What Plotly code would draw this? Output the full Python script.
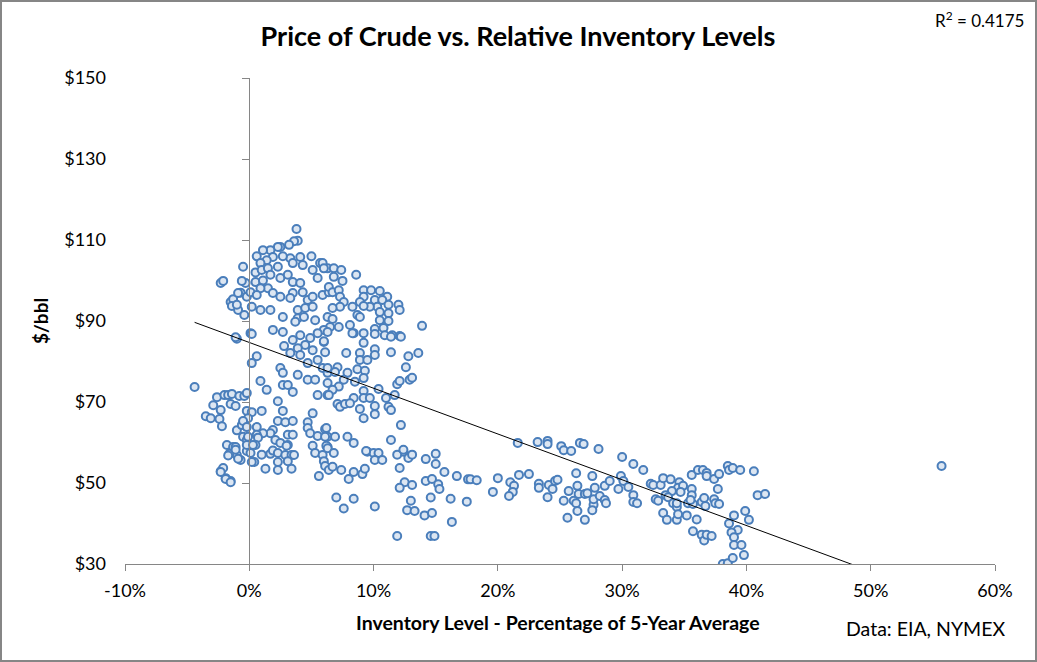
import numpy as np
import plotly.graph_objects as go

# Inventory level (% of 5-year average) and crude price ($/bbl)
inventory_pct = [
    -4.4,-3.5,-3.1,-2.9,-2.6,-2.3,-2.0,-2.4,-2.2,-1.5,-1.1,-1.7,-1.4,-2.3,-2.1,-1.9,-1.5,-1.8,-1.3,-1.0,-1.6,-0.7,-1.0,-0.6,-0.8,-0.4,-0.5,-0.2,-0.2,0.2,-0.2,0.1,0.4,
    -2.3,-2.1,-1.5,-1.3,-1.0,-1.4,-0.7,-0.5,-0.9,-0.4,-0.2,-0.3,-1.0,
    3.8,3.9,3.6,3.2,2.5,2.3,1.7,1.1,0.6,-0.6,5.0,4.1,3.3,2.7,1.9,3.5,4.3,1.4,0.9,0.5,1.0,1.5,2.3,1.7,2.5,3.1,3.5,4.1,5.1,5.7,5.5,6.3,0.5,1.1,1.5,0.9,0.1,-0.9,0.6,1.9,2.5,3.5,4.3,4.7,5.1,5.9,6.4,3.3,0.2,0.9,1.7,3.9,4.5,5.1,2.7,3.9,4.4,5.3,6.3,3.7,1.9,2.7,0.1,-1.1,
    5.9,6.0,6.8,7.4,6.8,7.5,8.6,6.4,6.7,7.2,7.3,7.6,9.2,9.8,10.5,11.1,9.2,10.1,10.7,8.9,12.0,12.1,11.2,10.3,9.7,9.2,8.3,7.3,6.7,11.2,10.5,8.7,8.9,6.7,13.9,10.5,11.2,6.5,7.2,8.1,10.8,10.1,9.2,12.1,8.4,11.5,6.0,
    0.2,0.6,0.2,2.8,3.5,4.1,4.9,5.5,6.0,4.5,3.9,5.1,6.1,3.3,4.1,5.5,4.7,5.9,6.3,2.5,2.7,3.9,4.7,5.3,2.7,3.1,3.5,5.5,6.3,0.9,1.4,2.3,-0.2,
    -0.1,-0.5,1.0,0.6,-0.2,2.7,2.3,2.9,3.5,1.9,1.7,1.1,0.6,-0.1,0.7,2.1,3.1,3.5,4.7,5.1,4.7,4.9,5.5,6.1,6.3,-1.1,-0.2,0.5,2.5,3.1,6.3,
    6.0,6.3,8.3,10.1,10.9,11.4,12.2,9.2,7.8,8.9,10.1,10.1,11.4,12.8,13.6,8.9,9.5,6.3,7.1,6.9,7.9,8.7,9.3,7.6,8.5,9.2,6.3,7.2,6.7,6.4,12.6,11.9,12.1,12.9,13.1,10.4,11.0,11.7,9.2,8.4,9.2,9.7,7.1,7.3,7.7,8.1,8.9,10.1,10.1,11.2,11.4,9.2,12.2,6.2,6.1,6.9,7.9,8.4,6.2,11.4,9.5,10.0,12.4,
    -1.1,-1.7,-0.9,0.3,0.2,-2.3,-1.9,-1.5,1.0,1.3,1.7,1.9,2.3,2.3,2.3,2.9,3.0,3.4,3.6,3.4,3.1,5.1,5.3,5.9,6.3,6.0,6.1,6.4,5.6,
    6.7,7.4,6.8,9.4,8.4,8.0,9.1,9.3,10.4,10.1,10.7,7.0,7.6,8.4,10.1,12.1,11.9,12.4,12.8,13.1,12.5,12.1,13.1,13.0,12.7,13.3,11.9,14.2,15.0,15.0,15.7,16.7,17.6,14.2,14.7,15.2,15.3,14.6,16.2,17.5,14.1,14.7,16.3,14.6,14.9,
    17.8,18.3,20.0,19.6,21.6,23.2,24.0,24.0,25.1,25.3,25.9,26.6,26.9,28.1,30.0,30.9,31.7,21.7,22.5,21.0,21.3,21.2,20.9,23.3,23.3,24.0,24.1,24.4,24.6,24.8,26.3,27.6,25.7,25.3,26.1,26.4,26.3,26.5,27.0,27.2,26.4,25.6,27.0,27.7,27.6,27.7,28.2,28.6,28.7,27.8,28.6,29.0,29.7,29.9,30.1,30.5,30.9,30.9,31.2,32.3,
    32.5,33.1,33.3,33.9,34.6,34.5,34.9,35.6,35.6,34.7,34.0,32.7,32.9,33.5,33.7,34.1,34.4,34.4,33.3,33.6,34.4,34.5,35.2,36.0,35.3,35.7,35.5,36.4,36.6,36.7,37.4,37.5,37.8,35.6,36.1,36.5,36.8,36.8,37.4,37.8,37.7,38.5,38.6,38.9,39.5,40.6,40.9,41.5,35.7,36.4,36.6,36.8,37.2,39.0,38.6,39.3,38.8,39.0,39.0,39.6,39.9,40.2,39.8,38.1,38.5,38.9,55.7,
]
price_usd = [
    73.7,66.5,66.0,69.2,71.2,68.0,71.7,65.8,64.0,69.5,69.0,71.7,72.0,52.9,53.7,51.2,50.5,59.4,58.9,56.9,57.2,55.7,63.0,64.3,71.5,71.5,61.4,60.6,67.8,67.5,57.9,57.4,55.2,
    99.4,99.9,94.7,95.4,85.6,93.7,97.0,103.4,92.7,91.5,96.0,99.4,94.0,
    112.7,109.8,109.7,108.8,108.3,108.3,107.5,107.5,106.0,99.9,106.0,105.8,105.5,106.0,105.8,104.3,103.8,105.0,104.3,102.0,102.6,103.0,103.4,101.4,100.6,101.4,99.6,99.4,102.6,104.3,100.6,103.0,99.6,100.0,98.1,98.1,97.1,96.9,96.4,96.9,96.0,96.9,97.1,95.2,96.0,96.4,97.1,95.7,93.5,92.7,92.7,92.7,93.2,93.5,91.0,90.7,91.0,90.2,91.0,89.8,87.8,87.3,87.0,86.0,
    104.3,103.0,103.0,102.6,100.9,99.9,101.4,98.4,97.1,97.6,96.0,94.7,97.6,97.6,97.4,96.0,96.0,95.2,95.2,94.7,94.0,92.7,94.0,93.5,93.5,93.7,93.5,93.5,93.2,91.9,92.2,91.5,91.0,90.5,88.8,90.2,90.0,88.5,88.5,89.0,88.3,88.0,87.0,86.3,87.0,86.5,87.8,
    86.8,81.3,79.6,83.8,85.3,86.5,85.8,87.0,84.8,84.1,83.3,82.8,82.3,82.1,81.6,80.4,79.6,78.4,77.2,78.4,77.2,76.7,75.5,75.5,74.2,74.2,72.5,71.7,71.7,75.2,73.0,70.2,72.2,
    66.0,65.3,67.8,63.8,63.8,67.8,65.3,65.0,65.3,63.1,62.3,62.3,61.9,61.4,61.2,60.6,61.9,61.9,65.0,67.2,63.6,62.3,61.6,63.3,61.4,58.9,59.4,59.4,59.9,59.4,58.9,
    85.0,87.3,87.0,86.8,86.5,86.1,86.1,84.6,82.1,82.1,83.0,81.6,82.3,81.3,82.1,80.4,80.4,78.4,78.6,77.4,77.2,78.1,77.7,75.5,75.0,75.9,74.7,73.8,73.0,71.7,78.6,74.4,75.2,75.5,76.0,73.2,71.0,71.7,72.7,71.0,71.0,71.0,69.5,68.8,69.5,69.7,68.3,69.0,67.0,68.8,68.0,66.0,64.3,63.6,61.4,61.4,61.4,59.9,59.2,60.6,57.7,57.4,57.7,
    58.2,56.8,56.0,59.4,55.2,52.7,51.0,50.2,57.0,53.5,57.2,58.0,57.4,55.2,53.2,56.9,59.2,56.9,56.9,53.5,55.4,59.2,57.4,56.9,58.6,55.4,54.2,53.2,51.7,
    54.0,53.2,57.4,57.9,52.7,51.0,52.2,53.5,57.4,55.7,55.7,46.4,43.7,46.1,44.2,53.7,57.0,58.2,56.2,57.0,50.2,48.8,49.5,45.6,43.3,43.1,36.9,55.9,57.2,54.7,52.7,51.7,50.9,50.5,51.0,49.7,48.5,46.4,46.1,45.4,42.0,42.6,40.4,36.9,36.9,
    50.9,50.7,51.2,47.8,59.9,60.1,60.4,59.6,59.1,58.1,57.9,59.9,59.6,58.4,56.4,54.7,53.2,52.0,52.2,50.2,49.3,47.8,46.8,49.8,48.8,46.5,49.5,48.5,50.5,50.8,52.4,51.7,48.0,45.6,45.6,49.3,45.0,47.3,47.3,47.5,43.1,41.4,40.9,44.6,43.3,46.0,46.8,45.8,45.0,48.8,49.3,50.5,48.5,51.7,50.5,49.0,47.0,45.3,45.0,49.8,
    49.5,49.5,51.2,50.9,50.2,48.8,49.3,48.5,47.0,47.8,48.0,46.0,45.6,47.0,46.5,45.0,44.1,45.0,42.6,40.9,40.9,42.3,42.0,41.0,45.0,44.8,45.8,45.3,46.3,44.3,46.0,45.0,44.8,52.0,53.2,53.2,52.5,51.7,51.0,52.2,48.5,54.2,53.2,53.7,53.2,52.9,47.0,47.3,38.1,37.2,35.8,37.2,36.9,42.0,40.0,38.4,37.8,36.6,34.7,34.7,43.1,40.9,32.2,30.0,30.2,31.5,54.2,
]

# Linear trend line as drawn on the chart (price = slope * pct + intercept)
trend_slope = -1.13
trend_intercept = 84.7
r2_label = "R<sup>2</sup> = 0.4175"

x_ticks = [-10, 0, 10, 20, 30, 40, 50, 60]
x_ticklabels = [f"{v}%" for v in x_ticks]
y_ticks = [30, 50, 70, 90, 110, 130, 150]
y_ticklabels = [f"${v}" for v in y_ticks]

trend_x = np.array([min(inventory_pct), max(inventory_pct)])
trend_y = trend_slope * trend_x + trend_intercept

W, H = 1037, 662
ML, MR, MT, MB = 125, 42, 78, 98
PW, PH = W - ML - MR, H - MT - MB
FONT = "Lato"
AX = "#868686"

def px(v):  # figure pixel -> paper x
    return (v - ML) / PW

def py(v):  # figure pixel -> paper y
    return (H - MB - v) / PH

fig = go.Figure()
fig.add_trace(go.Scatter(
    x=inventory_pct, y=price_usd, mode="markers",
    marker=dict(symbol="circle", size=8, color="#dce6f2",
                line=dict(color="#4a7ebb", width=2)),
    showlegend=False, hoverinfo="x+y",
))
fig.add_trace(go.Scatter(
    x=trend_x, y=trend_y, mode="lines", yaxis="y2",
    line=dict(color="black", width=1), showlegend=False, hoverinfo="skip",
))

fig.update_layout(
    width=W, height=H,
    margin=dict(l=ML, r=MR, t=MT, b=MB),
    paper_bgcolor="white", plot_bgcolor="white",
    font=dict(family=FONT, color="black", size=18),
    title=dict(text="<b>Price of Crude vs. Relative Inventory Levels</b>",
               x=518 / W, xanchor="center", y=1 - 37 / H, yanchor="middle",
               font=dict(family=FONT, size=27, color="black")),
    xaxis=dict(range=[-10, 60], tickvals=x_ticks, ticktext=x_ticklabels,
               showgrid=False, zeroline=False, showline=True, linecolor=AX, linewidth=1,
               ticks="outside", ticklen=6, tickcolor=AX, tickwidth=1,
               tickfont=dict(family=FONT, size=18), ticklabelstandoff=4),
    yaxis=dict(range=[30, 150], tickvals=y_ticks, ticktext=y_ticklabels,
               showgrid=False, zeroline=False, showline=False, ticks="",
               tickfont=dict(family=FONT, size=18), ticklabelstandoff=18),
    yaxis2=dict(range=[30, 150], tickvals=y_ticks, overlaying="y", anchor="free",
                position=(0 - (-10)) / 70, side="left",
                showgrid=False, zeroline=False, showline=True, linecolor=AX, linewidth=1,
                ticks="outside", ticklen=7, tickcolor=AX, showticklabels=False),
    annotations=[
        dict(text="<b>$/bbl</b>", xref="paper", yref="paper", x=px(40), y=py(321),
             textangle=-90, showarrow=False, xanchor="center", yanchor="middle",
             font=dict(family=FONT, size=19)),
        dict(text="<b>Inventory Level - Percentage of 5-Year Average</b>", xref="paper", yref="paper",
             x=px(558), y=py(622), showarrow=False, xanchor="center", yanchor="middle",
             font=dict(family=FONT, size=19.5)),
        dict(text="Data: EIA, NYMEX", xref="paper", yref="paper", x=px(1007), y=py(628),
             showarrow=False, xanchor="right", yanchor="middle",
             font=dict(family=FONT, size=19.5)),
        dict(text=r2_label, xref="paper", yref="paper", x=px(1026), y=py(19),
             showarrow=False, xanchor="right", yanchor="middle",
             font=dict(family=FONT, size=17)),
    ],
    shapes=[dict(type="rect", xref="paper", yref="paper",
                 x0=px(1), x1=px(W - 1), y0=py(H - 1), y1=py(1),
                 line=dict(color=AX, width=2), layer="below")],
)

fig.write_html("out.html", config={"displayModeBar": False},
               post_script="document.body.style.margin='0';document.body.style.overflow='hidden';")
